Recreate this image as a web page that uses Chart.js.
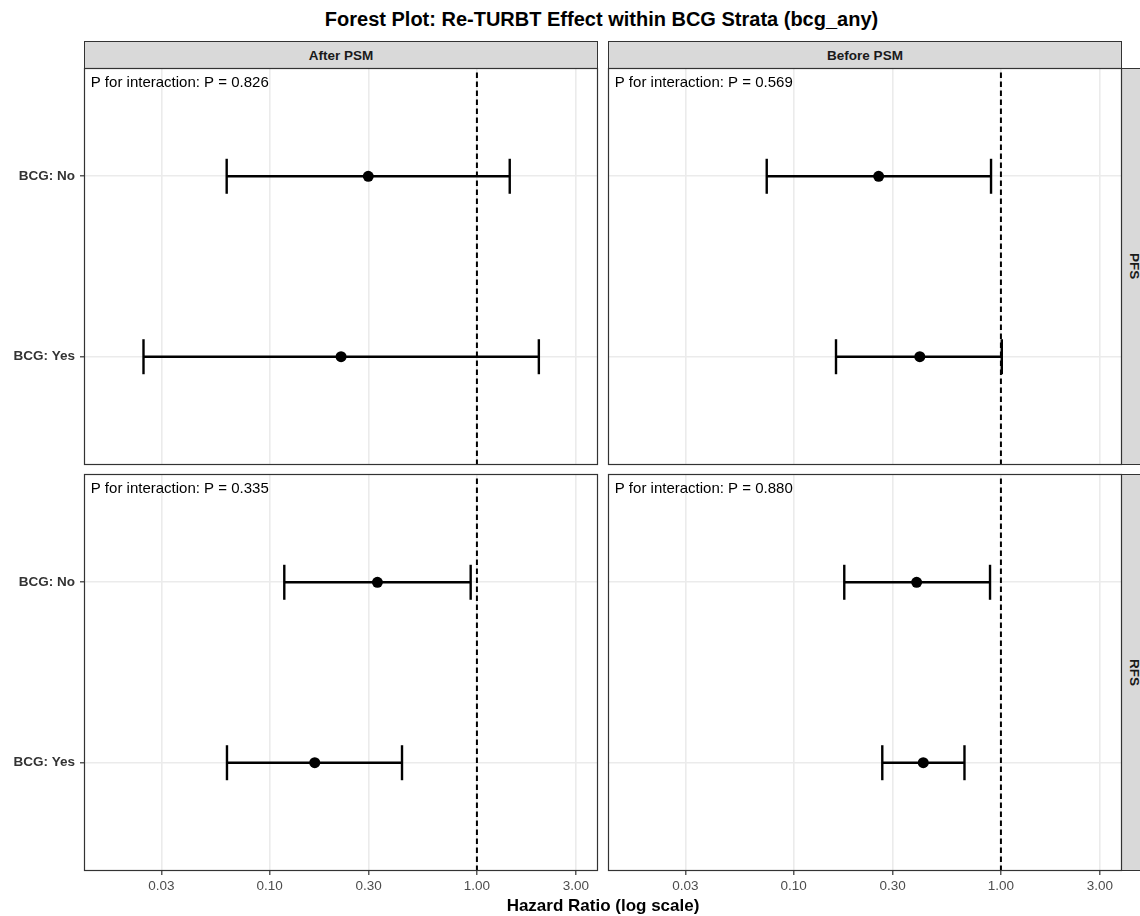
<!DOCTYPE html>
<html>
<head>
<meta charset="utf-8">
<script src="https://cdn.jsdelivr.net/npm/chart.js@4.4.1/dist/chart.umd.min.js"></script>
<style>
  body { margin: 0; width: 1140px; height: 916px; overflow: hidden; background: #fff; position: relative;
         font-family: "Liberation Sans", Arial, sans-serif; }
  canvas { position: absolute; }
  .title { position: absolute; left: 0; width: 1203px; top: 7px; text-align: center;
           font-weight: bold; font-size: 20px; line-height: 24px; color: #000; }
  .xtitle { position: absolute; left: 0; width: 1206px; top: 896px; text-align: center;
            font-weight: bold; font-size: 17px; line-height: 20px; color: #000; }
  .strip { position: absolute; background: #d9d9d9; border: 1px solid #333; box-sizing: border-box;
           font-weight: bold; font-size: 13.5px; color: #1a1a1a; display: flex;
           align-items: center; justify-content: center; }
  .strip.top { top: 41px; height: 28px; width: 514px; }
  .strip.side { left: 1121px; width: 26px; height: 397px; }
  .strip.side span { writing-mode: vertical-rl; }
</style>
</head>
<body>
<div class="title">Forest Plot: Re-TURBT Effect within BCG Strata (bcg_any)</div>
<div class="strip top" style="left:84px">After PSM</div>
<div class="strip top" style="left:608px">Before PSM</div>
<div class="strip side" style="top:68px"><span>PFS</span></div>
<div class="strip side" style="top:474px"><span>RFS</span></div>
<canvas id="pfsAfter"></canvas>
<canvas id="pfsBefore"></canvas>
<canvas id="rfsAfter"></canvas>
<canvas id="rfsBefore"></canvas>
<div class="xtitle">Hazard Ratio (log scale)</div>
<script>
// strata shown on the y axis, top to bottom
const rowLabels = ['BCG: No', 'BCG: Yes'];
const rowPos = [2, 1];

// x axis (log scale)
const xTicks = [0.03, 0.1, 0.3, 1, 3];
const xMin = 0.0127;
const xMax = 3.84;
const refHR = 1;

// hazard ratio and 95% CI, same order as rowLabels
const pfsAfterHR = [0.299, 0.221];
const pfsAfterLo = [0.062, 0.0246];
const pfsAfterHi = [1.44, 1.99];

const pfsBeforeHR = [0.257, 0.406];
const pfsBeforeLo = [0.0741, 0.160];
const pfsBeforeHi = [0.896, 1.01];

const rfsAfterHR = [0.331, 0.165];
const rfsAfterLo = [0.1176, 0.0622];
const rfsAfterHi = [0.933, 0.435];

const rfsBeforeHR = [0.392, 0.422];
const rfsBeforeLo = [0.1754, 0.2676];
const rfsBeforeHi = [0.886, 0.667];

// P for interaction: [PFS, RFS]
const pAfter = [0.826, 0.335];
const pBefore = [0.569, 0.880];

const PANEL_W = 514;
const PANEL_H = 397;
const PAD = 2;

Chart.defaults.font.family = '"Liberation Sans", Arial, sans-serif';

// frame + annotation text for each facet
const panelFrame = {
  id: 'panelFrame',
  afterDatasetsDraw(chart, args, opts) {
    const { ctx, chartArea: a } = chart;
    ctx.save();
    ctx.font = '15px "Liberation Sans", Arial, sans-serif';
    ctx.fillStyle = '#000';
    ctx.textBaseline = 'middle';
    ctx.fillText(opts.label, a.left + 6.7, a.top + 15.3);
    ctx.strokeStyle = '#333';
    ctx.lineWidth = 1.2;
    ctx.strokeRect(a.left + 0.5, a.top + 0.5, a.width - 1, a.height - 1);
    ctx.restore();
  }
};

function buildPanel(id, x0, y0, est, lo, hi, p, showY, showX) {
  const axisW = showY ? 84 : 0;
  const axisH = showX ? 32 : 0;
  const cv = document.getElementById(id);
  cv.width = axisW + PANEL_W + 2 * PAD;
  cv.height = PANEL_H + axisH + 2 * PAD;
  cv.style.left = (x0 - axisW - PAD) + 'px';
  cv.style.top = (y0 - PAD) + 'px';

  const ciSets = rowPos.map((y, i) => ({
    data: [{ x: lo[i], y: y }, { x: hi[i], y: y }],
    showLine: true,
    borderColor: '#000',
    borderWidth: 2.4,
    pointStyle: 'line',
    pointRadius: 17.5,
    pointRotation: 90,
    pointBorderWidth: 2.4,
    pointBorderColor: '#000',
    order: 2
  }));

  const pointSet = {
    data: rowPos.map((y, i) => ({ x: est[i], y: y })),
    pointRadius: 5.5,
    pointBackgroundColor: '#000',
    pointBorderWidth: 0,
    order: 1
  };

  const refLine = {
    data: [{ x: refHR, y: 0.4 }, { x: refHR, y: 2.6 }],
    showLine: true,
    borderColor: '#000',
    borderWidth: 2,
    borderDash: [5.5, 3.5],
    pointRadius: 0,
    order: 3
  };

  return new Chart(cv, {
    type: 'scatter',
    data: { datasets: [pointSet, ...ciSets, refLine] },
    options: {
      responsive: false,
      animation: false,
      events: [],
      layout: { padding: PAD, autoPadding: false },
      plugins: {
        legend: { display: false },
        tooltip: { enabled: false },
        panelFrame: { label: 'P for interaction: P = ' + p.toFixed(3) }
      },
      scales: {
        x: {
          type: 'logarithmic',
          min: xMin,
          max: xMax,
          afterBuildTicks: s => { s.ticks = xTicks.map(v => ({ value: v })); },
          afterFit: s => { s.height = axisH; s.paddingLeft = 0; s.paddingRight = 0; },
          border: { display: false },
          grid: { color: '#ebebeb', lineWidth: 1.6, drawTicks: showX, tickLength: 4,
                  tickColor: '#333', tickWidth: 1.2 },
          ticks: { display: showX, color: '#4d4d4d', font: { size: 13.5 }, padding: 3,
                   maxRotation: 0, autoSkip: false,
                   callback: v => Number(v).toFixed(2) }
        },
        y: {
          type: 'linear',
          min: 0.4,
          max: 2.6,
          afterBuildTicks: s => { s.ticks = rowPos.map(v => ({ value: v })); },
          afterFit: s => { s.width = axisW; s.paddingTop = 0; s.paddingBottom = 0; },
          border: { display: false },
          grid: { color: '#ebebeb', lineWidth: 1.6, drawTicks: showY, tickLength: 4,
                  tickColor: '#333', tickWidth: 1.2 },
          ticks: { display: showY, color: '#333', font: { size: 13.5, weight: 'bold' }, padding: 5,
                   callback: v => rowLabels[rowPos.indexOf(v)] }
        }
      }
    },
    plugins: [panelFrame]
  });
}

buildPanel('pfsAfter', 84, 68, pfsAfterHR, pfsAfterLo, pfsAfterHi, pAfter[0], true, false);
buildPanel('pfsBefore', 608, 68, pfsBeforeHR, pfsBeforeLo, pfsBeforeHi, pBefore[0], false, false);
buildPanel('rfsAfter', 84, 474, rfsAfterHR, rfsAfterLo, rfsAfterHi, pAfter[1], true, true);
buildPanel('rfsBefore', 608, 474, rfsBeforeHR, rfsBeforeLo, rfsBeforeHi, pBefore[1], false, true);
</script>
</body>
</html>
